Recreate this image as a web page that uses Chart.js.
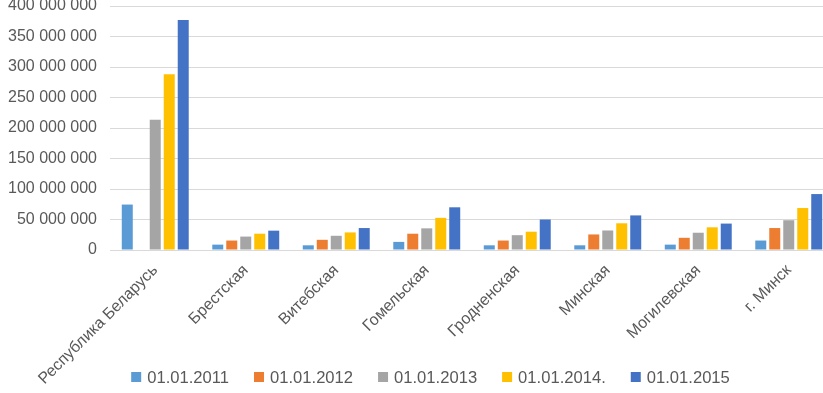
<!DOCTYPE html>
<html>
<head>
<meta charset="utf-8">
<script src="https://cdn.jsdelivr.net/npm/chart.js@4"></script>
<style>
  html, body { margin: 0; padding: 0; background: #fff; overflow: hidden; }
  #wrap { width: 864px; height: 393px; }
</style>
</head>
<body>
<div id="wrap"><canvas id="grafico" width="864" height="393"></canvas></div>
<script>
  // Категории (регионы)
  const regioes = ['Республика Беларусь', 'Брестская', 'Витебская', 'Гомельская',
    'Гродненская', 'Минская', 'Могилевская', 'г. Минск'];

  // Значения по датам
  const s2011 = [74500000, 8800000, 7700000, 13300000, 7700000, 7700000, 8800000, 15500000];
  const s2012 = [null, 15500000, 16700000, 26700000, 15500000, 25500000, 20000000, 36000000];
  const s2013 = [213500000, 22000000, 23300000, 35500000, 24300000, 32000000, 28300000, 48800000];
  const s2014 = [288000000, 26700000, 28800000, 52700000, 30000000, 43800000, 37200000, 68800000];
  const s2015 = [377000000, 31700000, 36000000, 70000000, 50000000, 56700000, 43300000, 91700000];

  const rotulos = ['01.01.2011', '01.01.2012', '01.01.2013', '01.01.2014.', '01.01.2015'];
  const cores = ['#5B9BD5', '#ED7D31', '#A5A5A5', '#FFC000', '#4472C4'];

  const series = [s2011, s2012, s2013, s2014, s2015];
  const fonte = 'Liberation Sans';

  function formatar(v) {
    return String(v).replace(/\B(?=(\d{3})+(?!\d))/g, ' ');
  }

  // Легенда внизу, поверх области подписей оси X
  const legendaPlugin = {
    id: 'legendaBaixo',
    afterDraw(chart) {
      const ctx = chart.ctx;
      const ds = chart.data.datasets;
      ctx.save();
      ctx.font = '16.6px "' + fonte + '"';
      ctx.textBaseline = 'middle';
      const caixa = 10, gap = 6, espaco = 25;
      const larguras = ds.map(d => caixa + gap + ctx.measureText(d.label).width);
      const total = larguras.reduce((a, b) => a + b, 0) + espaco * (ds.length - 1);
      let x = 430.5 - total / 2;
      const y = 378;
      ds.forEach((d, i) => {
        ctx.fillStyle = d.backgroundColor;
        ctx.fillRect(x, y - 6, caixa, caixa);
        ctx.fillStyle = '#595959';
        ctx.fillText(d.label, x + caixa + gap, y);
        x += larguras[i] + espaco;
      });
      ctx.restore();
    },
  };

  document.addEventListener('DOMContentLoaded', () => {
    const ctx = document.getElementById('grafico').getContext('2d');
    new Chart(ctx, {
      type: 'bar',
      data: {
        labels: regioes,
        datasets: series.map((d, i) => ({
          label: rotulos[i],
          data: d,
          backgroundColor: cores[i],
          categoryPercentage: 0.773,
          barPercentage: 0.786,
        })),
      },
      options: {
        responsive: false,
        animation: false,
        layout: { padding: { top: 6, right: 30, bottom: 0, left: 0 } },
        plugins: {
          tooltip: { enabled: false },
          legend: { display: false },
        },
        scales: {
          x: {
            grid: { display: false },
            border: { display: false },
            ticks: {
              color: '#595959',
              font: { family: fonte, size: 16 },
              minRotation: 45,
              maxRotation: 45,
              autoSkip: false,
            },
            afterFit: (s) => { s.height = 143; s.paddingLeft = 0; s.paddingRight = 0; },
          },
          y: {
            min: 0,
            max: 400000000,
            border: { display: false },
            grid: { color: '#d9d9d9', drawTicks: false },
            ticks: {
              stepSize: 50000000,
              padding: 13,
              color: '#595959',
              font: { family: fonte, size: 16 },
              callback: (v) => formatar(v),
            },
            afterFit: (s) => { s.width = 110; s.paddingTop = 0; s.paddingBottom = 0; },
          },
        },
      },
      plugins: [legendaPlugin],
    });
  });
</script>
</body>
</html>
